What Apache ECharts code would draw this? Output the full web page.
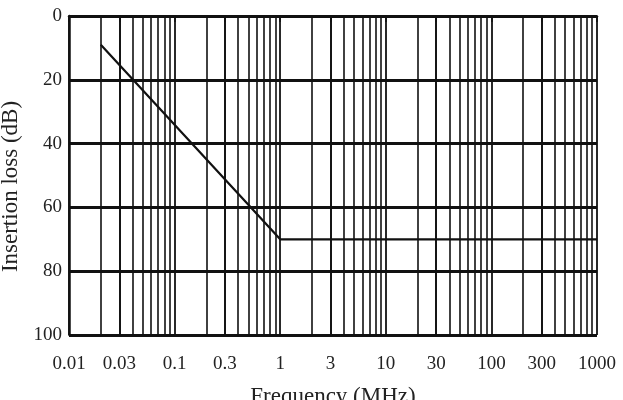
<!DOCTYPE html>
<html>
<head>
<meta charset="utf-8">
<script src="https://cdn.jsdelivr.net/npm/echarts@6/dist/echarts.min.js"></script>
<style>
  html, body { margin: 0; padding: 0; background: #fff; }
  #chart { width: 623px; height: 400px; }
</style>
</head>
<body>
<div id="chart"></div>
<script>
// frequency (MHz) / insertion loss (dB)
var freq = [0.02, 1, 1000]
var loss = [9, 70, 70]
var xLabels = [0.01, 0.03, 0.1, 0.3, 1, 3, 10, 30, 100, 300, 1000]
var yTicks = [0, 20, 40, 60, 80, 100]

var font = '"Liberation Serif", "DejaVu Serif", serif'

var chart = echarts.init(document.getElementById('chart'))

var option = {
    animation: false,
    backgroundColor: '#fff',
    grid: { left: 69, right: 26, top: 16, bottom: 65, outerBoundsMode: 'none', containLabel: false },
    xAxis: {
        type: 'log',
        logBase: 10,
        min: 0.01,
        max: 1000,
        name: 'Frequency (MHz)',
        nameLocation: 'middle',
        nameGap: 50,
        nameTextStyle: { fontFamily: font, fontSize: 23, color: '#222' },
        axisLine: { show: true, lineStyle: { color: '#111', width: 2.5 } },
        axisTick: { show: true, length: 6, inside: false, customValues: xLabels, lineStyle: { color: '#111', width: 1.5 } },
        axisLabel: {
            customValues: xLabels,
            fontFamily: font, fontSize: 19, color: '#222', margin: 20,
            formatter: function (v) { return String(+v.toPrecision(3)) }
        },
        splitLine: { show: true, lineStyle: { color: '#111', width: 1.8 } },
        minorTick: { show: false, splitNumber: 9 },
        minorSplitLine: { show: true, lineStyle: { color: '#111', width: 1.6 } }
    },
    yAxis: {
        type: 'value',
        inverse: true,
        min: 0,
        max: 100,
        interval: 20,
        name: 'Insertion loss (dB)',
        nameLocation: 'middle',
        nameGap: 41,
        nameTextStyle: { fontFamily: font, fontSize: 23, color: '#222', padding: [0, 22, 0, 0] },
        axisLine: { show: true, lineStyle: { color: '#111', width: 2.5 } },
        axisTick: { show: false },
        axisLabel: { fontFamily: font, fontSize: 19, color: '#222', margin: 7 },
        splitLine: { show: true, lineStyle: { color: '#111', width: 3 } }
    },
    series: [{
        type: 'line',
        data: freq.map(function (f, i) { return [f, loss[i]] }),
        symbol: 'none',
        lineStyle: { color: '#111', width: 2.2 }
    }]
}

chart.setOption(option)
</script>
</body>
</html>
